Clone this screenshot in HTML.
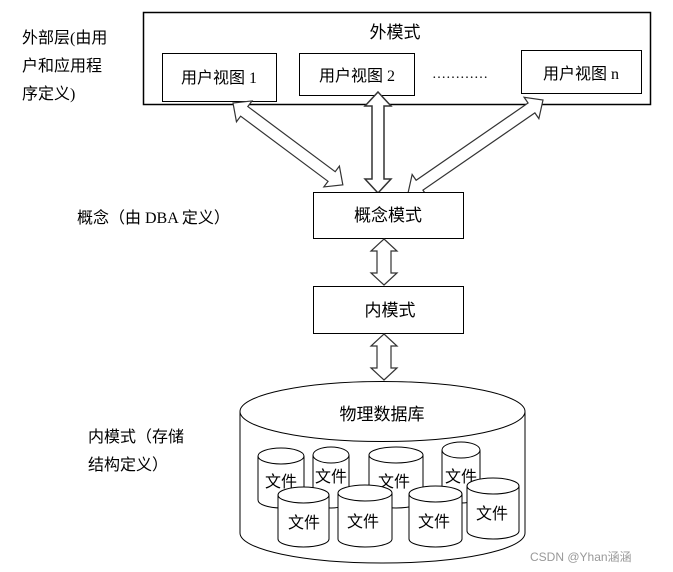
<!DOCTYPE html>
<html><head><meta charset="utf-8"><style>
body{margin:0;background:#fff}
svg{display:block}
text{font-family:"Liberation Serif","Noto Sans CJK SC",serif;fill:#000}
</style></head><body>
<svg width="673" height="572" viewBox="0 0 673 572">
<defs>
<g id="a137"><polygon points="0,0 14,-13 14,-6 123,-6 123,-13 137,0 123,13 123,6 14,6 14,13" fill="#fff" stroke="#333" stroke-width="1.2"/></g>
</defs>
<rect x="143.5" y="12.5" width="507" height="92" fill="#fff" stroke="#000" stroke-width="1.5"/>
<text x="395" y="38" font-size="17" text-anchor="middle">外模式</text>
<rect x="162.5" y="53.5" width="114" height="48" fill="#fff" stroke="#000"/>
<text x="219" y="83" font-size="16" text-anchor="middle">用户视图 1</text>
<rect x="299.5" y="53.5" width="115" height="42" fill="#fff" stroke="#000"/>
<text x="357" y="81" font-size="16" text-anchor="middle">用户视图 2</text>
<text x="432" y="78" font-size="14">…………</text>
<rect x="521.5" y="50.5" width="120" height="43" fill="#fff" stroke="#000"/>
<text x="581" y="79" font-size="16" text-anchor="middle">用户视图 n</text>

<polygon transform="translate(233,103) rotate(36.7)" points="0,0 14,-13 14,-6 123,-6 123,-13 137,0 123,13 123,6 14,6 14,13" fill="#fff" stroke="#333" stroke-width="1.2"/>
<polygon transform="translate(543,100) rotate(145.4)" points="0,0 14,-13 14,-6 150,-6 150,-13 164,0 150,13 150,6 14,6 14,13" fill="#fff" stroke="#333" stroke-width="1.2"/>
<polygon transform="translate(378,92) rotate(90)" points="0,0 14,-13 14,-6 87,-6 87,-13 101,0 87,13 87,6 14,6 14,13" fill="#fff" stroke="#333" stroke-width="1.5"/>

<rect x="313.5" y="192.5" width="150" height="46" fill="#fff" stroke="#000"/>
<text x="388" y="221" font-size="17" text-anchor="middle">概念模式</text>
<polygon transform="translate(384,239) rotate(90)" points="0,0 12,-13 12,-7 34,-7 34,-13 46,0 34,13 34,7 12,7 12,13" fill="#fff" stroke="#333" stroke-width="1.2"/>
<rect x="313.5" y="286.5" width="150" height="47" fill="#fff" stroke="#000"/>
<text x="390" y="316" font-size="17" text-anchor="middle">内模式</text>
<polygon transform="translate(384,334) rotate(90)" points="0,0 12,-13 12,-7 34,-7 34,-13 46,0 34,13 34,7 12,7 12,13" fill="#fff" stroke="#333" stroke-width="1.2"/>

<!-- big cylinder -->
<path d="M240,412 L240,533 A142.5,30 0 0 0 525,533 L525,412" fill="#fff" stroke="#000"/>
<ellipse cx="382.5" cy="411.5" rx="142.5" ry="30" fill="#fff" stroke="#000"/>
<text x="382" y="420" font-size="17" text-anchor="middle">物理数据库</text>

<g fill="#fff" stroke="#000" font-size="16">
<g><path d="M258,456 L258,500 A23,8 0 0 0 304,500 L304,456" /><ellipse cx="281" cy="456" rx="23" ry="8"/></g>
<g><path d="M313,455 L313,500 A18,8 0 0 0 349,500 L349,455"/><ellipse cx="331" cy="455" rx="18" ry="8"/></g>
<g><path d="M369,455 L369,500 A27,8 0 0 0 423,500 L423,455"/><ellipse cx="396" cy="455" rx="27" ry="8"/></g>
<g><path d="M442,450 L442,495 A19,8 0 0 0 480,495 L480,450"/><ellipse cx="461" cy="450" rx="19" ry="8"/></g>
</g>
<text x="281" y="487" font-size="16" text-anchor="middle">文件</text>
<text x="331" y="482" font-size="16" text-anchor="middle">文件</text>
<text x="394" y="487" font-size="16" text-anchor="middle">文件</text>
<text x="461" y="482" font-size="16" text-anchor="middle">文件</text>
<g fill="#fff" stroke="#000">
<path d="M278,495 L278,539 A25.5,8 0 0 0 329,539 L329,495"/><ellipse cx="303.5" cy="495" rx="25.5" ry="8"/>
<path d="M338,493 L338,539 A27,8 0 0 0 392,539 L392,493"/><ellipse cx="365" cy="493" rx="27" ry="8"/>
<path d="M409,494 L409,539 A26.5,8 0 0 0 462,539 L462,494"/><ellipse cx="435.5" cy="494" rx="26.5" ry="8"/>
<path d="M467,486 L467,531 A26,8 0 0 0 519,531 L519,486"/><ellipse cx="493" cy="486" rx="26" ry="8"/>
</g>
<text x="304" y="528" font-size="16" text-anchor="middle">文件</text>
<text x="363" y="527" font-size="16" text-anchor="middle">文件</text>
<text x="434" y="527" font-size="16" text-anchor="middle">文件</text>
<text x="492" y="519" font-size="16" text-anchor="middle">文件</text>

<g font-size="16">
<text x="22" y="43">外部层(由用</text>
<text x="22" y="71">户和应用程</text>
<text x="22" y="99">序定义)</text>
<text x="77" y="223">概念（由 DBA 定义）</text>
<text x="88" y="442">内模式（存储</text>
<text x="88" y="470">结构定义）</text>
</g>
<text x="530" y="561" font-size="12" style="fill:#999;font-family:'Liberation Sans','Noto Sans CJK SC',sans-serif">CSDN @Yhan涵涵</text>
</svg>
</body></html>
